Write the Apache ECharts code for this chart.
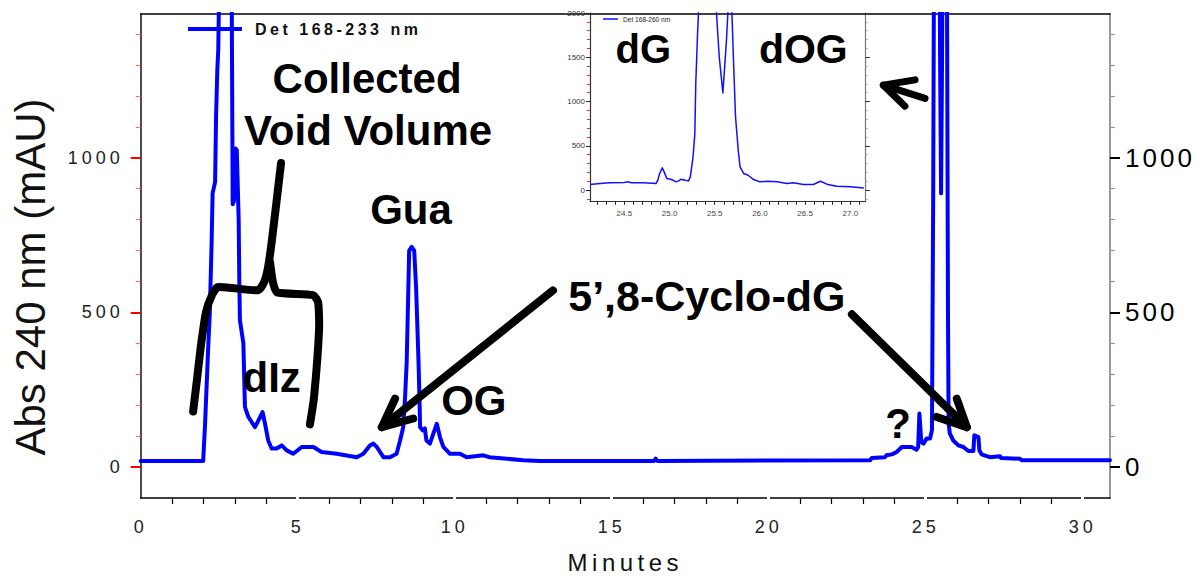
<!DOCTYPE html>
<html>
<head>
<meta charset="utf-8">
<script src="https://cdn.jsdelivr.net/npm/echarts@6/dist/echarts.min.js"></script>
<style>
  html, body { margin: 0; padding: 0; background: #fff; }
  #chart { width: 1196px; height: 576px; }
  /* tracked lettering for axis labels and legends (SVG text) */
  #chart text[style*="spacingA"] { letter-spacing: 4px; }
  #chart text[style*="spacingB"] { letter-spacing: 3px; }
  #chart text[style*="spacingC"] { letter-spacing: 3.5px; }
  #chart text[style*="spacingD"] { letter-spacing: 4.5px; }
</style>
</head>
<body>
<div id="chart"></div>
<script>
// Full run, detector at 240 nm: retention time (min) and absorbance (mAU)
const runTime = [
  0, 1.99, 2.05, 2.15, 2.2, 2.26, 2.29, 2.37, 2.4, 2.44,
  2.47, 2.52, 2.6, 2.75, 2.86, 2.9, 2.93, 2.97, 3.02, 3.06,
  3.12, 3.14, 3.16, 3.27, 3.32, 3.43, 3.64, 3.75, 3.88, 3.96,
  4.06, 4.17, 4.33, 4.49, 4.65, 4.86, 5.13, 5.5, 5.76, 6.24,
  6.88, 7.09, 7.3, 7.41, 7.52, 7.73, 7.94, 8.15, 8.26, 8.36,
  8.42, 8.47, 8.52, 8.55, 8.63, 8.71, 8.77, 8.85, 8.9, 8.98,
  9.05, 9.1, 9.21, 9.32, 9.43, 9.53, 9.64, 9.85, 10.17, 10.38,
  10.91, 11.1, 12.19, 12.7, 16.35, 16.4, 16.45, 23.23, 23.28, 23.7,
  23.75, 23.92, 24.08, 24.24, 24.55, 24.71, 24.76, 24.8, 24.86, 24.93,
  25.03, 25.14, 25.2, 25.24, 25.27, 25.35, 25.43, 25.46, 25.49, 25.52,
  25.56, 25.62, 25.68, 25.71, 25.73, 25.77, 25.88, 26.04, 26.2, 26.36,
  26.52, 26.55, 26.68, 26.71, 26.78, 27.04, 27.37, 27.4, 28.0, 28.06,
  30.87
];
const runAbs = [
  20, 20, 140, 388, 497, 732, 885, 922, 1133, 1284,
  1348, 1700, 2400, 2600, 2000, 1500, 850, 860, 1030, 1025,
  800, 600, 475, 400, 194, 162, 129, 151, 178, 140,
  86, 60, 60, 70, 54, 43, 65, 65, 49, 43,
  32, 43, 70, 76, 65, 32, 32, 43, 86, 129,
  227, 335, 560, 700, 712, 700, 583, 335, 129, 119,
  125, 86, 76, 108, 140, 97, 65, 43, 43, 32,
  38, 32, 22, 20, 20, 27, 20, 22, 29, 32,
  38, 41, 49, 65, 65, 56, 65, 173, 81, 76,
  92, 92, 120, 900, 1800, 2500, 1900, 1300, 885, 1300,
  2000, 2200, 1500, 500, 140, 108, 86, 70, 65, 52,
  52, 103, 97, 54, 41, 32, 35, 29, 27, 22,
  22
];

// Expanded window around the dG / dOG elution (second detector trace)
const zoomTime = [
  24.12, 24.23, 24.34, 24.5, 24.53, 24.58, 24.71, 24.85, 24.87, 24.89,
  24.92, 24.94, 24.97, 25.01, 25.04, 25.07, 25.1, 25.13, 25.17, 25.21,
  25.23, 25.26, 25.28, 25.29, 25.31, 25.33, 25.42, 25.51, 25.55, 25.59,
  25.63, 25.645, 25.667, 25.69, 25.71, 25.73, 25.76, 25.78, 25.82, 25.87,
  25.93, 26.0, 26.08, 26.19, 26.3, 26.37, 26.48, 26.59, 26.67, 26.74,
  26.85, 27.0, 27.15
];
const zoomAbs = [
  64, 75, 83, 86, 94, 83, 83, 75, 113, 188,
  252, 207, 132, 124, 113, 94, 105, 124, 113, 105,
  150, 376, 639, 1203, 1767, 2250, 3000, 2150, 1500, 1098,
  1700, 2000, 2300, 2000, 1391, 827, 451, 263, 188, 169,
  120, 94, 101, 94, 75, 83, 64, 64, 101, 68,
  45, 38, 26
];

const seriesNames = ['Det 168-233 nm', 'Det 168-260 nm'];
const runLabelsX = [0, 5, 10, 15, 20, 25, 30];
const runLabelsY = [0, 500, 1000];
const zoomLabelsX = [24.5, 25.0, 25.5, 26.0, 26.5, 27.0];
const zoomLabelsY = [0, 500, 1000, 1500, 2000];

// tick positions
const range = (a, b, s) => { const out = []; for (let v = a; v <= b + 1e-9; v += s) out.push(+v.toFixed(3)); return out; };
const runMinorX = range(1, 29, 1).filter(v => v % 5 !== 0);
const runMajorX = range(5, 30, 5);
const runMinorY = range(100, 1400, 100).filter(v => v % 500 !== 0);
const zoomMinorX = range(24.2, 27.1, 0.1);
const zoomMinorY = range(-100, 1900, 100).filter(v => v % 500 !== 0);
const zoomRightY = [0, 500, 1000, 1500];

const FONT = "'Liberation Sans'";
const chart = echarts.init(document.getElementById('chart'), null, { renderer: 'svg' });

const runGrid = 0, zoomGrid = 1;
const plain = v => String(v);
const line = (color, width) => ({ show: true, onZero: false, lineStyle: { color, width } });
const noLine = { show: false, onZero: false };
const baseAxis = {
  type: 'value',
  splitLine: { show: false },
  axisLine: noLine,
  axisTick: { show: false },
  axisLabel: { show: false }
};

const option = {
  animation: false,
  backgroundColor: '#fff',
  grid: [
    { left: 140.7, top: 14, width: 969.3, height: 484, outerBoundsMode: 'none', containLabel: false },
    { left: 590, top: 13, width: 275.7, height: 188.7, outerBoundsMode: 'none', containLabel: false,
      show: true, backgroundColor: '#fff', borderWidth: 0 }
  ],
  legend: [
    {
      data: [{ name: seriesNames[0], icon: 'rect' }],
      left: 188, top: 21, padding: 0, itemWidth: 54, itemHeight: 4, selectedMode: false,
      textStyle: { fontSize: 16, fontWeight: 'bold', color: '#111', fontFamily: FONT + ', spacingC', padding: [0, 0, 0, 8] }
    },
    {
      data: [{ name: seriesNames[1], icon: 'rect' }],
      left: 603, top: 15.5, padding: 0, itemWidth: 15, itemHeight: 1.5, selectedMode: false,
      textStyle: { fontSize: 6.6, color: '#222', fontFamily: FONT, padding: [0, 0, 0, 0] }
    }
  ],
  xAxis: [
    { ...baseAxis, gridIndex: runGrid, position: 'bottom', min: 0, max: 30.87,
      axisLine: line('#000', 1.5),
      axisTick: { show: true, customValues: runMinorX, length: 6, lineStyle: { color: '#000', width: 1.2 } },
      axisLabel: { show: true, customValues: runLabelsX, fontSize: 18, color: '#222', margin: 20,
        fontFamily: FONT + ', spacingA', formatter: plain },
      name: 'Minutes', nameLocation: 'middle', nameGap: 52,
      nameTextStyle: { fontSize: 24, color: '#111', fontFamily: FONT + ', spacingD' } },
    { ...baseAxis, gridIndex: runGrid, position: 'bottom', offset: -1.5, min: 0, max: 30.87,
      axisTick: { show: true, customValues: runMajorX, length: 3, lineStyle: { color: '#fff', width: 3 } } },
    { ...baseAxis, gridIndex: runGrid, position: 'top', min: 0, max: 30.87,
      axisLine: line('#000', 1.5) },
    { ...baseAxis, gridIndex: zoomGrid, position: 'bottom', min: 24.12, max: 27.17,
      axisLine: line('#333', 1.2),
      axisTick: { show: true, customValues: zoomMinorX, length: 3, lineStyle: { color: '#222', width: 1 } },
      axisLabel: { show: true, customValues: zoomLabelsX, fontSize: 8, color: '#444', margin: 8, fontFamily: FONT,
        formatter: v => v.toFixed(1) } }
  ],
  yAxis: [
    { ...baseAxis, gridIndex: runGrid, position: 'left', min: -100, max: 1465,
      axisLine: line('#111', 1.5),
      axisTick: { show: true, customValues: runMinorY, length: 5, lineStyle: { color: '#f07070', width: 1.2 } },
      name: 'Abs 240 nm (mAU)', nameLocation: 'middle', nameGap: 89,
      nameTextStyle: { fontSize: 42, color: '#111', fontFamily: FONT, padding: [0, 42, 0, 0] } },
    { ...baseAxis, gridIndex: runGrid, position: 'left', min: -100, max: 1465,
      axisTick: { show: true, customValues: runLabelsY, length: 10, lineStyle: { color: '#ff0000', width: 2 } },
      axisLabel: { show: true, customValues: runLabelsY, fontSize: 18, color: '#222', margin: 17,
        fontFamily: FONT + ', spacingA', formatter: plain } },
    { ...baseAxis, gridIndex: runGrid, position: 'right', min: -100, max: 1465,
      axisLine: line('#777', 1.5),
      axisTick: { show: true, customValues: runMinorY, length: 5, lineStyle: { color: '#999', width: 1.2 } } },
    { ...baseAxis, gridIndex: runGrid, position: 'right', min: -100, max: 1465,
      axisTick: { show: true, customValues: runLabelsY, length: 10, lineStyle: { color: '#000', width: 2 } },
      axisLabel: { show: true, customValues: runLabelsY, fontSize: 26, color: '#000', margin: 15,
        fontFamily: FONT + ', spacingB', formatter: plain } },
    { ...baseAxis, gridIndex: zoomGrid, position: 'left', min: -130, max: 2000,
      axisLine: line('#333', 1.2),
      axisTick: { show: true, customValues: zoomMinorY, length: 3, lineStyle: { color: '#e03030', width: 1 } } },
    { ...baseAxis, gridIndex: zoomGrid, position: 'left', min: -130, max: 2000,
      axisTick: { show: true, customValues: zoomLabelsY, length: 4, lineStyle: { color: '#222', width: 1 } },
      axisLabel: { show: true, customValues: zoomLabelsY, fontSize: 8, color: '#333', margin: 5, fontFamily: FONT,
        formatter: plain } },
    { ...baseAxis, gridIndex: zoomGrid, position: 'right', min: -130, max: 2000,
      axisLine: line('#777', 1.2),
      axisTick: { show: true, customValues: zoomMinorY, length: 2, lineStyle: { color: '#aaa', width: 1 } } },
    { ...baseAxis, gridIndex: zoomGrid, position: 'right', min: -130, max: 2000,
      axisTick: { show: true, customValues: zoomRightY, length: 4, lineStyle: { color: '#222', width: 1 } } }
  ],
  series: [
    {
      name: seriesNames[0], type: 'line', xAxisIndex: 0, yAxisIndex: 0,
      data: runTime.map((t, i) => [t, runAbs[i]]),
      showSymbol: false, symbol: 'none', clip: true, z: 5,
      color: '#0000ff',
      lineStyle: { color: '#0000ff', width: 4, join: 'round', cap: 'round' }
    },
    {
      name: seriesNames[1], type: 'line', xAxisIndex: 3, yAxisIndex: 4,
      data: zoomTime.map((t, i) => [t, zoomAbs[i]]),
      showSymbol: false, symbol: 'none', clip: true, z: 5,
      color: '#1010ff',
      lineStyle: { color: '#1010ff', width: 1.5, join: 'round' }
    }
  ]
};
chart.setOption(option);

// Annotations, placed in the data units of the run (series 0) or of the expanded window (series 1)
const braceLeft = [[1.67, 180], [1.79, 281], [1.92, 394], [2.08, 501], [2.27, 556], [2.46, 582],
                   [3.74, 572], [3.93, 598], [4.05, 643], [4.18, 734], [4.47, 983]];
const braceRight = [[4.12, 662], [4.21, 598], [4.34, 565], [5.49, 556], [5.65, 533], [5.68, 443],
                    [5.52, 226], [5.39, 138]];
const arrows = [
  { shaft: [[13.13, 571], [7.68, 129]], head: [[8.10, 221], [7.68, 129], [8.68, 157]], width: 8 },
  { shaft: [[22.65, 494], [26.31, 129]], head: [[25.99, 221], [26.31, 129], [25.35, 162]], width: 8 },
  { shaft: [[24.98, 1192], [23.65, 1235]], head: [[24.66, 1252], [23.65, 1235], [24.34, 1167]], width: 7 }
];
const runNotes = [
  { text: 'Collected', at: [7.21, 1256], size: 42 },
  { text: 'Void Volume', at: [7.24, 1089], size: 42 },
  { text: 'Gua', at: [8.61, 834], size: 42 },
  { text: 'dIz', at: [4.17, 290], size: 42 },
  { text: 'OG', at: [10.61, 216], size: 42 },
  { text: '5\u2019,8-Cyclo-dG', at: [18.03, 554], size: 43 },
  { text: '?', at: [24.12, 141], size: 42 }
];
const zoomNotes = [
  { text: 'dG', at: [24.71, 1588], size: 40 },
  { text: 'dOG', at: [26.48, 1590], size: 41 }
];

const toPx = (si, p) => chart.convertToPixel({ seriesIndex: si }, p);
const stroke = w => ({ stroke: '#000', lineWidth: w, fill: 'none', lineCap: 'round', lineJoin: 'round' });
const polyline = (pts, w, smooth) => ({
  type: 'polyline', z: 50, silent: true,
  shape: { points: pts.map(p => toPx(0, p)), smooth: smooth || 0 },
  style: stroke(w)
});
const note = (si, n) => {
  const p = toPx(si, n.at);
  return {
    type: 'text', z: 60, silent: true, x: p[0], y: p[1],
    style: {
      text: n.text, font: `bold ${n.size}px ${FONT}`, fill: '#000',
      align: 'center', verticalAlign: 'middle', textAlign: 'center', textVerticalAlign: 'middle'
    }
  };
};

const graphics = [polyline(braceLeft, 8, 0.2), polyline(braceRight, 8, 0.2)];
arrows.forEach(a => { graphics.push(polyline(a.shaft, a.width)); graphics.push(polyline(a.head, a.width)); });
runNotes.forEach(n => graphics.push(note(0, n)));
zoomNotes.forEach(n => graphics.push(note(1, n)));
chart.setOption({ graphic: graphics });
</script>
</body>
</html>
